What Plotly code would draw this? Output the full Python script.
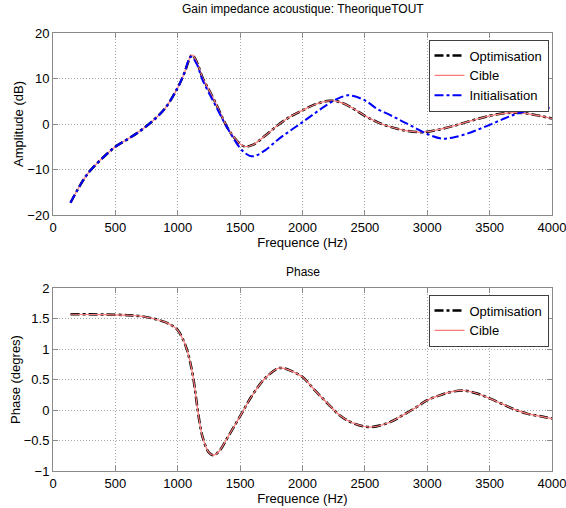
import plotly.graph_objects as go

# ---- data ----
freq_opt = [140, 200, 250, 300, 400, 500, 600, 700, 800, 900, 1000, 1050, 1100, 1115, 1150,
            1200, 1250, 1300, 1400, 1450, 1500, 1540, 1600, 1700, 1800, 1900, 2000, 2100,
            2215, 2300, 2400, 2500, 2600, 2700, 2800, 2930, 3000, 3100, 3200, 3300, 3400,
            3500, 3600, 3700, 3800, 3900, 4000]
amp_opt = [-17.3, -14.3, -12.0, -10.2, -7.4, -5.0, -3.3, -1.5, 0.7, 3.5, 8.0, 11.0, 14.7, 15.2, 13.8,
           10.1, 7.5, 4.8, -0.9, -2.9, -4.4, -4.95, -4.6, -2.6, -0.3, 1.6, 3.0, 4.3,
           5.1, 4.8, 3.5, 1.8, 0.4, -0.6, -1.3, -1.8, -1.7, -1.2, -0.5, 0.3, 1.1,
           1.8, 2.3, 2.5, 2.3, 1.8, 1.2]

freq_init = [140, 200, 250, 300, 400, 500, 600, 700, 800, 900, 1000, 1050, 1105, 1150,
             1200, 1300, 1400, 1500, 1550, 1590, 1630, 1700, 1800, 1900, 2000, 2100, 2200, 2300, 2363,
             2400, 2500, 2600, 2700, 2800, 2900, 3000, 3115, 3200, 3300, 3400, 3500, 3600,
             3700, 3800, 3900, 4000]
amp_init = [-17.3, -14.3, -12.0, -10.2, -7.4, -5.0, -3.3, -1.5, 0.7, 3.5, 8.0, 11.0, 14.8, 13.3,
            9.6, 4.2, -1.0, -5.3, -6.6, -7.1, -6.9, -5.8, -3.5, -1.5, 0.4, 2.4, 4.3, 5.8, 6.3,
            6.2, 5.2, 3.3, 2.0, 0.6, -0.8, -2.2, -3.2, -3.0, -2.3, -1.3, -0.2, 1.0,
            2.1, 2.9, 3.4, 3.6]

freq_ph = [140, 400, 600, 700, 800, 900, 950, 1000, 1050, 1075, 1100, 1125, 1150, 1175,
           1200, 1250, 1287, 1330, 1400, 1500, 1600, 1700, 1800, 1830, 1900, 2000, 2100,
           2200, 2300, 2400, 2540, 2700, 2800, 2900, 3000, 3100, 3200, 3290, 3400, 3500,
           3600, 3700, 3800, 3900, 4000]
phase = [1.57, 1.565, 1.555, 1.54, 1.5, 1.44, 1.39, 1.31, 1.12, 0.98, 0.78, 0.52, 0.15, -0.2,
         -0.45, -0.7, -0.74, -0.68, -0.45, -0.1, 0.25, 0.52, 0.68, 0.69, 0.65, 0.54, 0.32,
         0.11, -0.09, -0.21, -0.28, -0.2, -0.09, 0.03, 0.16, 0.24, 0.3, 0.32, 0.27, 0.19,
         0.1, 0.01, -0.06, -0.1, -0.14]

x_ticks = [0, 500, 1000, 1500, 2000, 2500, 3000, 3500, 4000]
amp_ticks = [-20, -10, 0, 10, 20]
ph_ticks = [-1, -0.5, 0, 0.5, 1, 1.5, 2]

# ---- styles ----
FONT = "Liberation Sans, Arial, Helvetica, sans-serif"
BLACK = dict(color="black", width=2.5, dash="dashdot")
RED = dict(color="#ff7a7a", width=1.2)
BLUE = dict(color="blue", width=2, dash="dashdot")

fig = go.Figure()
fig.add_trace(go.Scatter(x=freq_opt, y=amp_opt, mode="lines", name="Optimisation",
                         line=dict(**BLACK, shape="spline"), xaxis="x", yaxis="y", legend="legend"))
fig.add_trace(go.Scatter(x=freq_opt, y=amp_opt, mode="lines", name="Cible",
                         line=dict(**RED, shape="spline"), xaxis="x", yaxis="y", legend="legend"))
fig.add_trace(go.Scatter(x=freq_init, y=amp_init, mode="lines", name="Initialisation",
                         line=dict(**BLUE, shape="spline"), xaxis="x", yaxis="y", legend="legend"))
fig.add_trace(go.Scatter(x=freq_ph, y=phase, mode="lines", name="Optimisation",
                         line=dict(**BLACK, shape="spline"), xaxis="x2", yaxis="y2", legend="legend2"))
fig.add_trace(go.Scatter(x=freq_ph, y=phase, mode="lines", name="Cible",
                         line=dict(**RED, shape="spline"), xaxis="x2", yaxis="y2", legend="legend2"))

axis_common = dict(showline=True, mirror="ticks", linecolor="#8a8a8a", linewidth=1,
                   ticks="inside", ticklen=5, tickcolor="#8a8a8a", automargin=False,
                   ticklabeloverflow="allow",
                   showgrid=True, gridcolor="#a8a8a8", griddash="1px,2px", gridwidth=1,
                   zeroline=False, tickfont=dict(size=13, color="black", family=FONT))

T = 33
B = 37
H = 508 - T - B
top_lo = (471 - 215) / H
bot_hi = (471 - 288) / H

fig.update_layout(
    width=566, height=508,
    margin=dict(l=53, r=14, t=T, b=B),
    paper_bgcolor="white", plot_bgcolor="white",
    font=dict(family=FONT, size=12, color="black"),
    showlegend=True,
    xaxis=dict(domain=[0, 1], range=[0, 4000], tickvals=x_ticks, anchor="y",
               title=dict(text="Frequence (Hz)", standoff=3, font=dict(size=13)), **axis_common),
    yaxis=dict(domain=[top_lo, 1], range=[-20, 20], tickvals=amp_ticks, anchor="x",
               title=dict(text="Amplitude (dB)", standoff=0, font=dict(size=13)), **axis_common),
    xaxis2=dict(domain=[0, 1], range=[0, 4000], tickvals=x_ticks, anchor="y2",
                title=dict(text="Frequence (Hz)", standoff=3, font=dict(size=13)), **axis_common),
    yaxis2=dict(domain=[0, bot_hi], range=[-1, 2], tickvals=ph_ticks, anchor="x2",
                title=dict(text="Phase (degres)", standoff=0, font=dict(size=13)), **axis_common),
    legend=dict(x=0.993, y=0.985, xanchor="right", yanchor="top", bgcolor="white",
                bordercolor="#404040", borderwidth=1, font=dict(size=13, family=FONT),
                tracegroupgap=0, itemwidth=30),
    legend2=dict(x=0.993, y=bot_hi - 0.015, xanchor="right", yanchor="top", bgcolor="white",
                 bordercolor="#404040", borderwidth=1, font=dict(size=13, family=FONT),
                 tracegroupgap=0, itemwidth=30),
    annotations=[
        dict(text="Gain impedance acoustique: TheoriqueTOUT", xref="paper", yref="paper",
             x=0.5, y=1, yshift=15, showarrow=False, yanchor="bottom",
             font=dict(size=12, family=FONT)),
        dict(text="Phase", xref="paper", yref="paper", x=0.5, y=bot_hi, yshift=7,
             showarrow=False, yanchor="bottom", font=dict(size=12, family=FONT)),
    ],
)

fig.write_html("out.html", config={"displayModeBar": False},
               post_script="document.body.style.margin='0px';document.body.style.overflow='hidden';")
